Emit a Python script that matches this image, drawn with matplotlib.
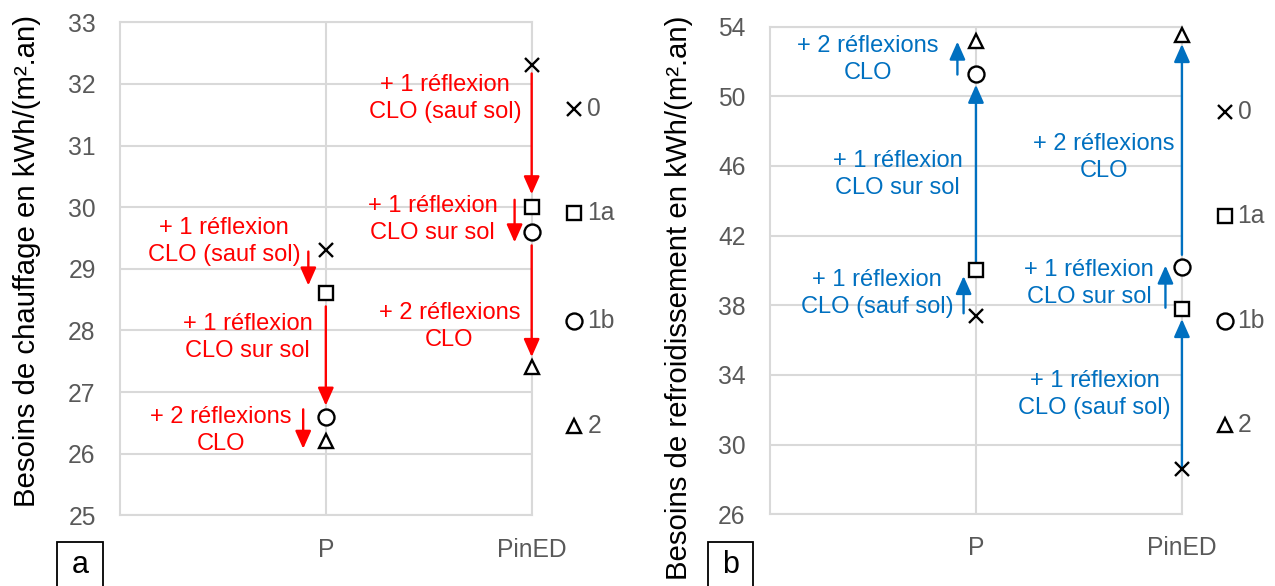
# -*- coding: utf-8 -*-

'''
Besoins de chauffage / refroidissement - P et PinED
'''

# imports
import matplotlib.pyplot as plt
from matplotlib.patches import Rectangle

################################################################################

categories = ['P', 'PinED']
scenarios = ['0', '1a', '1b', '2']
markers = ['x', 's', 'o', '^']
marker_sizes = [10, 10, 11.5, 10.5]

# heating needs (kWh/(m2.an)), one list per scenario
heat_0 = [29.3, 32.3]
heat_1a = [28.6, 30.0]
heat_1b = [26.6, 29.6]
heat_2 = [26.2, 27.4]

# cooling needs (kWh/(m2.an))
cool_0 = [37.4, 28.6]
cool_1a = [40.0, 37.8]
cool_1b = [51.3, 40.2]
cool_2 = [53.2, 53.5]

heat_ticks = [25, 26, 27, 28, 29, 30, 31, 32, 33]
cool_ticks = [26, 30, 34, 38, 42, 46, 50, 54]

# legend column, y position of each scenario
heat_legend_y = [31.6, 29.9, 28.15, 26.45]
cool_legend_y = [49.1, 43.1, 37.1, 31.1]

# arrows: x, y start, y end
heat_arrows = [(0.915, 29.28, 28.73), (1.0, 28.39, 26.78), (0.89, 26.72, 26.08),
               (2.0, 32.17, 30.21), (1.917, 30.12, 29.43), (2.0, 29.38, 27.57)]
cool_arrows = [(0.94, 37.54, 39.68), (1.0, 40.43, 50.66), (0.91, 51.25, 53.14),
               (2.0, 28.75, 37.21), (1.92, 37.86, 40.28), (2.0, 40.9, 53.0)]

# annotations: text, x, y
heat_notes = [('+ 1 réflexion\nCLO (sauf sol)', 0.506, 29.44),
              ('+ 1 réflexion\nCLO sur sol', 0.62, 27.88),
              ('+ 2 réflexions\nCLO', 0.49, 26.37),
              ('+ 1 réflexion\nCLO (sauf sol)', 1.58, 31.77),
              ('+ 1 réflexion\nCLO sur sol', 1.52, 29.8),
              ('+ 2 réflexions\nCLO', 1.6, 28.06)]
cool_notes = [('+ 2 réflexions\nCLO', 0.475, 52.09),
              ('+ 1 réflexion\nCLO sur sol', 0.62, 45.52),
              ('+ 1 réflexion\nCLO (sauf sol)', 0.52, 38.7),
              ('+ 2 réflexions\nCLO', 1.62, 46.49),
              ('+ 1 réflexion\nCLO sur sol', 1.55, 39.25),
              ('+ 1 réflexion\nCLO (sauf sol)', 1.575, 32.9)]

GRID = '#d9d9d9'
GREY = '#595959'
RED = '#ff0000'
BLUE = '#0070c0'

plt.rcParams['font.family'] = ['Liberation Sans', 'DejaVu Sans']

################################################################################

def draw_panel(ax, series, ticks, legend_y, arrows, notes, color):
    ax.set_xlim(0, 2)
    ax.set_ylim(ticks[0], ticks[-1])
    ax.set_yticks(ticks)
    ax.set_xticks([1, 2])
    ax.set_xticklabels(categories)
    ax.tick_params(length=0, labelsize=17.7, colors=GREY)
    ax.tick_params(axis='y', pad=17.5)
    ax.tick_params(axis='x', pad=16)
    ax.grid(True, color=GRID, lw=1.5)
    ax.set_axisbelow(True)
    for s in ax.spines.values():
        s.set_color(GRID)
        s.set_linewidth(1.5)

    for (x, y0, y1) in arrows:
        ax.annotate('', xy=(x, y1), xytext=(x, y0),
                    arrowprops=dict(arrowstyle='-|>,head_length=1.08,head_width=0.48',
                                    color=color, lw=1.7, shrinkA=0, shrinkB=0,
                                    mutation_scale=10),
                    zorder=3, annotation_clip=False)

    for (txt, x, y) in notes:
        ax.text(x, y, txt, color=color, fontsize=17, ha='center', va='center',
                multialignment='center', linespacing=1.3, zorder=4)

    for ind, vals in enumerate(series):
        ax.plot([1, 2], vals, ls='none', marker=markers[ind],
                ms=marker_sizes[ind], mec='black', mfc='white', mew=1.7,
                clip_on=False, zorder=5)
        ax.plot([2.208], [legend_y[ind]], ls='none', marker=markers[ind],
                ms=marker_sizes[ind], mec='black', mfc='white', mew=1.7,
                clip_on=False, zorder=5)
        ax.text(2.27, legend_y[ind], scenarios[ind], color=GREY, fontsize=17.7,
                ha='left', va='center', clip_on=False)

################################################################################

if __name__ == "__main__":

    fig = plt.figure(figsize=(12.75, 5.86), dpi=100)
    ax1 = fig.add_axes([0.0941, 0.1206, 0.3229, 0.8413])
    ax2 = fig.add_axes([0.6039, 0.1224, 0.3231, 0.8321])

    draw_panel(ax1, [heat_0, heat_1a, heat_1b, heat_2], heat_ticks,
               heat_legend_y, heat_arrows, heat_notes, RED)
    draw_panel(ax2, [cool_0, cool_1a, cool_1b, cool_2], cool_ticks,
               cool_legend_y, cool_arrows, cool_notes, BLUE)

    fig.text(35 / 1275, 1 - 15 / 586, 'Besoins de chauffage en kWh/(m².an)',
             rotation=90, rotation_mode='anchor', ha='right', va='baseline',
             fontsize=21.2, color='black')
    fig.text(686.7 / 1275, 1 - 15 / 586, 'Besoins de refroidissement en kWh/(m².an)',
             rotation=90, rotation_mode='anchor', ha='right', va='baseline',
             fontsize=21.2, color='black')

    # panel letters in boxes
    for (x0, x1, y0, letter) in [(57.3, 103.3, 541.7, 'a'), (708.3, 753.3, 542, 'b')]:
        fig.patches.append(Rectangle((x0 / 1275, -0.05), (x1 - x0) / 1275,
                                     (586 - y0) / 586 + 0.05,
                                     transform=fig.transFigure, fill=False,
                                     ec='black', lw=1.3))
        fig.text((x0 + x1) / 2 / 1275, 1 - 565 / 586, letter, fontsize=22,
                 ha='center', va='center', color='black')

    fig.savefig('out.png', dpi=100)
